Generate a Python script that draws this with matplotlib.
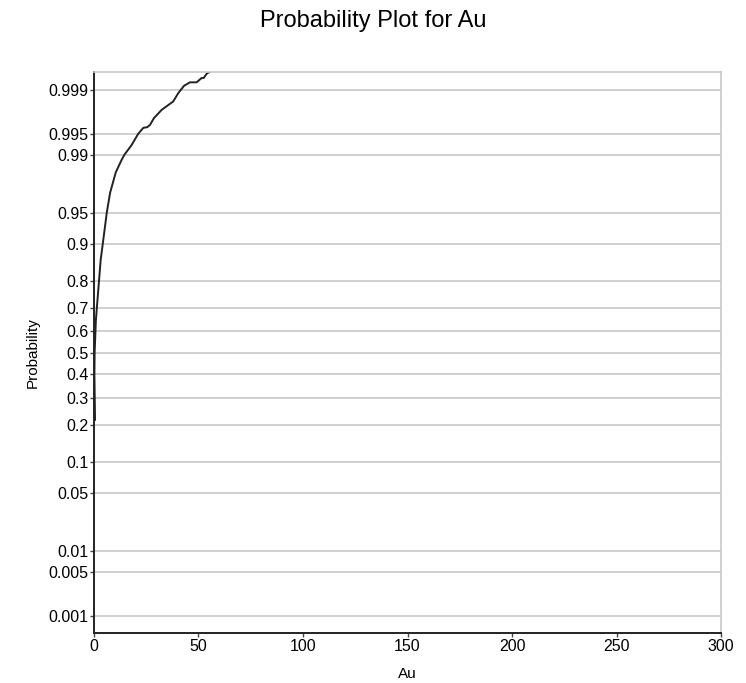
""" probability plot of Au grades on a normal-probability axis """
import math
from statistics import NormalDist
import numpy as np
from matplotlib import pyplot as plt

# empirical curve: Au value vs cumulative probability
au = [0.5, 0.2, 0.3, 0.9, 3.2, 4.2, 6.1, 7.7, 10.4, 13.2, 14.5, 18.0, 21.2,
      23.6, 25.5, 26.8, 28.7, 32.4, 37.9, 40.3, 43.1, 45.9, 49.1, 51.5,
      52.5, 53.9, 55.8]
prob = [0.216, 0.4, 0.5, 0.65, 0.863, 0.9, 0.95, 0.970, 0.983, 0.9883, 0.99,
        0.9927, 0.995, 0.9959, 0.9960, 0.9963, 0.9971, 0.99785, 0.99843,
        0.99886, 0.99915, 0.99926, 0.99926, 0.99938, 0.99938, 0.99948,
        0.99953]

prob_ticks = [0.001, 0.005, 0.01, 0.05, 0.1, 0.2, 0.3, 0.4, 0.5, 0.6, 0.7,
              0.8, 0.9, 0.95, 0.99, 0.995, 0.999]
prob_labels = ["0.001", "0.005", "0.01", "0.05", "0.1", "0.2", "0.3", "0.4",
               "0.5", "0.6", "0.7", "0.8", "0.9", "0.95", "0.99", "0.995",
               "0.999"]
au_ticks = [0, 50, 100, 150, 200, 250, 300]

_nd = NormalDist()
_ppf = np.vectorize(_nd.inv_cdf, otypes=[float])
_erf = np.vectorize(math.erf, otypes=[float])


def probit(p):
    p = np.clip(np.asarray(p, dtype=float), 1e-12, 1 - 1e-12)
    return _ppf(p)


def inv_probit(z):
    z = np.asarray(z, dtype=float)
    return 0.5 * (1 + _erf(z / math.sqrt(2)))


if __name__ == "__main__":
    plt.rcParams['font.family'] = ['Liberation Sans', 'DejaVu Sans']
    fig = plt.figure(figsize=(7.46, 6.83), dpi=100)
    ax = fig.add_axes([0.126, 0.0732, 0.8405, 0.8214])
    ax.set_yscale('function', functions=(probit, inv_probit))

    ax.plot(au, prob, color="#222222", lw=1.4)

    ax.set_xlim(0, 300)
    ax.set_ylim(float(inv_probit(-3.29)), float(inv_probit(3.30)))
    ax.set_yticks(prob_ticks)
    ax.set_yticklabels(prob_labels)
    ax.yaxis.set_minor_locator(plt.NullLocator())
    ax.set_xticks(au_ticks)
    ax.grid(axis="y", color="#c8c8c8", lw=1.2)
    ax.set_axisbelow(True)

    for side in ("top", "right"):
        ax.spines[side].set_color("#c8c8c8")
        ax.spines[side].set_linewidth(1.2)
    for side in ("left", "bottom"):
        ax.spines[side].set_color("#222222")
        ax.spines[side].set_linewidth(1.4)
    ax.tick_params(axis="both", length=3, width=1, color="#444444",
                   labelsize=11.5, pad=1)

    ax.set_xlabel("Au", fontsize=11, labelpad=10)
    ax.set_ylabel("Probability", fontsize=11, labelpad=6)
    fig.suptitle("Probability Plot for Au", fontsize=17, y=0.985)
    fig.savefig("out.png", dpi=100)
